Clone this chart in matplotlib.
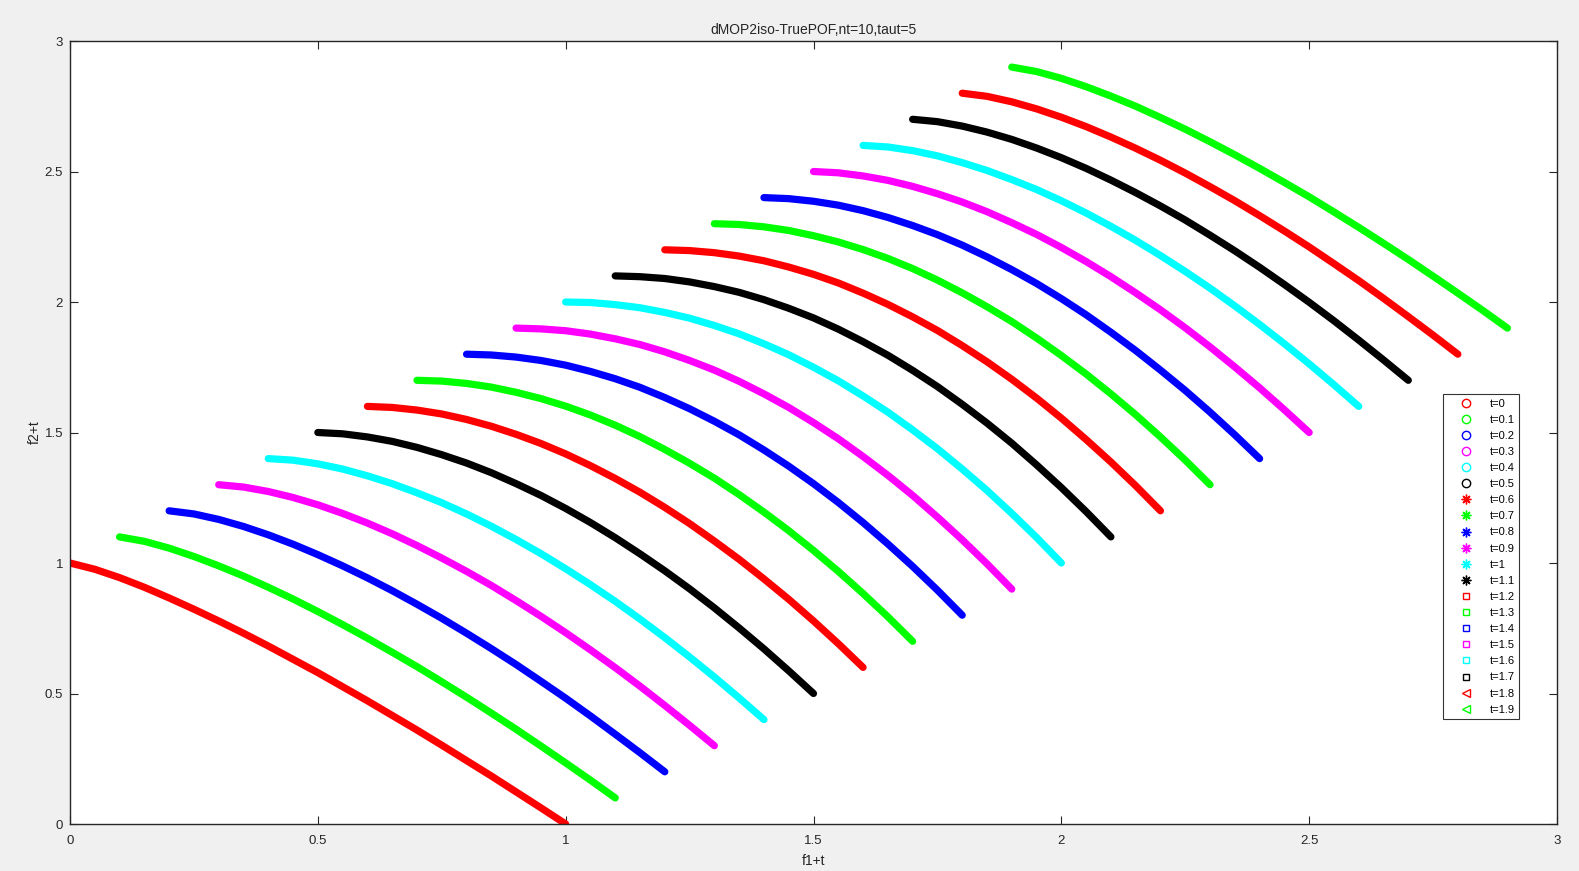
import numpy as np
import matplotlib
matplotlib.use('Agg')
import matplotlib.pyplot as plt
from matplotlib.lines import Line2D

# time steps shown in the legend
t_vals = [0, 0.1, 0.2, 0.3, 0.4, 0.5, 0.6, 0.7, 0.8, 0.9,
          1, 1.1, 1.2, 1.3, 1.4, 1.5, 1.6, 1.7, 1.8, 1.9]
labels = ['t=0', 't=0.1', 't=0.2', 't=0.3', 't=0.4', 't=0.5', 't=0.6', 't=0.7',
          't=0.8', 't=0.9', 't=1', 't=1.1', 't=1.2', 't=1.3', 't=1.4', 't=1.5',
          't=1.6', 't=1.7', 't=1.8', 't=1.9']
cmap = {'r': '#ff0000', 'g': '#00ff00', 'b': '#0000ff', 'm': '#ff00ff',
        'c': '#00ffff', 'k': '#000000'}
colors = [cmap[c] for c in ['r', 'g', 'b', 'm', 'c', 'k'] * 4]
markers = ['o'] * 6 + ['*'] * 6 + ['s'] * 6 + ['<'] * 2

# front shapes: f2 at f1 = 0, 0.05, ..., 1 (before adding t)
f1 = [0, 0.05, 0.1, 0.15, 0.2, 0.25, 0.3, 0.35, 0.4, 0.45, 0.5,
      0.55, 0.6, 0.65, 0.7, 0.75, 0.8, 0.85, 0.9, 0.95, 1.0]
shapes = [
    [1, 0.976, 0.944, 0.907, 0.866, 0.823, 0.778, 0.731, 0.682, 0.631, 0.580, 0.526, 0.472, 0.416, 0.360, 0.302, 0.243, 0.184, 0.123, 0.062, 0],
    [1, 0.983, 0.957, 0.925, 0.889, 0.850, 0.807, 0.762, 0.714, 0.664, 0.612, 0.558, 0.503, 0.445, 0.386, 0.325, 0.263, 0.199, 0.134, 0.068, 0],
    [1, 0.988, 0.967, 0.940, 0.908, 0.872, 0.832, 0.789, 0.743, 0.694, 0.642, 0.588, 0.531, 0.472, 0.411, 0.347, 0.282, 0.214, 0.144, 0.073, 0],
    [1, 0.991, 0.974, 0.951, 0.923, 0.890, 0.853, 0.812, 0.767, 0.719, 0.668, 0.614, 0.556, 0.496, 0.433, 0.367, 0.299, 0.228, 0.154, 0.078, 0],
    [1, 0.994, 0.980, 0.960, 0.934, 0.904, 0.869, 0.831, 0.788, 0.741, 0.690, 0.636, 0.578, 0.517, 0.453, 0.385, 0.314, 0.240, 0.163, 0.083, 0],
    [1, 0.995, 0.983, 0.966, 0.943, 0.915, 0.883, 0.846, 0.804, 0.759, 0.709, 0.655, 0.597, 0.535, 0.470, 0.401, 0.328, 0.251, 0.171, 0.087, 0],
    [1, 0.996, 0.986, 0.971, 0.950, 0.924, 0.893, 0.858, 0.818, 0.773, 0.724, 0.671, 0.613, 0.551, 0.484, 0.414, 0.339, 0.261, 0.178, 0.091, 0],
    [1, 0.997, 0.988, 0.974, 0.954, 0.930, 0.901, 0.867, 0.828, 0.784, 0.735, 0.682, 0.625, 0.562, 0.495, 0.424, 0.348, 0.268, 0.183, 0.094, 0],
    [1, 0.997, 0.989, 0.976, 0.958, 0.934, 0.906, 0.873, 0.834, 0.791, 0.743, 0.691, 0.633, 0.571, 0.504, 0.432, 0.355, 0.273, 0.187, 0.096, 0],
    [1, 0.997, 0.990, 0.977, 0.959, 0.937, 0.909, 0.876, 0.839, 0.796, 0.748, 0.696, 0.638, 0.576, 0.508, 0.436, 0.359, 0.276, 0.189, 0.097, 0],
    [1, 0.998, 0.990, 0.978, 0.960, 0.938, 0.910, 0.878, 0.840, 0.798, 0.750, 0.698, 0.640, 0.578, 0.510, 0.438, 0.360, 0.278, 0.190, 0.098, 0],
]
# which shape each t uses (fronts mirror around t=1)
shape_idx = [0, 1, 2, 3, 4, 5, 6, 7, 8, 9, 10, 9, 8, 7, 6, 5, 4, 3, 2, 1]

plt.rcParams['font.family'] = ['Liberation Sans', 'DejaVu Sans']
fig = plt.figure(figsize=(15.79, 8.71), dpi=100, facecolor='#f0f0f0')
ax = fig.add_axes([70 / 1579, 1 - 824 / 871, 1487 / 1579, 783 / 871])

for i, t in enumerate(t_vals):
    x = np.array(f1) + t
    y = np.array(shapes[shape_idx[i]]) + t
    ax.plot(x, y, '-', color=colors[i], lw=5.2, solid_capstyle='round',
            solid_joinstyle='round')

ticks = [0, 0.5, 1, 1.5, 2, 2.5, 3]
tick_labels = ['0', '0.5', '1', '1.5', '2', '2.5', '3']
ax.set_xlim(0, 3)
ax.set_ylim(0, 3)
ax.set_xticks(ticks)
ax.set_yticks(ticks)
ax.set_xticklabels(tick_labels)
ax.set_yticklabels(tick_labels)
ax.tick_params(direction='in', top=True, right=True, length=6, width=0.8,
               labelsize=9.5, colors='#262626')
ax.tick_params(axis='x', pad=8)
ax.tick_params(axis='y', pad=5)
for s in ax.spines.values():
    s.set_color('#262626')
    s.set_linewidth(1.0)
ax.set_xlabel('f1+t', fontsize=10, color='#262626', labelpad=5)
ax.set_ylabel('f2+t', fontsize=10, color='#262626', labelpad=2)
ax.set_title('dMOP2iso-TruePOF,nt=10,taut=5', fontsize=10, color='#262626', pad=5)

handles = []
for i in range(len(t_vals)):
    m = markers[i]
    if m == '*':
        h = Line2D([], [], ls='none', marker=(8, 2, 0), color=colors[i],
                   markersize=7, mew=1)
    else:
        h = Line2D([], [], ls='none', marker=m, color=colors[i], mfc='none',
                   markersize=6 if m != 's' else 5, mew=1)
    handles.append(h)
leg = ax.legend(handles, labels, loc='upper left', bbox_to_anchor=(0.923, 0.549),
                fontsize=8, frameon=True, fancybox=False, edgecolor='black',
                labelspacing=0.55, handletextpad=0.5, borderpad=0.4,
                handlelength=3.35, borderaxespad=0)
leg.get_frame().set_linewidth(0.8)

fig.savefig('out.png', dpi=100, facecolor=fig.get_facecolor())
